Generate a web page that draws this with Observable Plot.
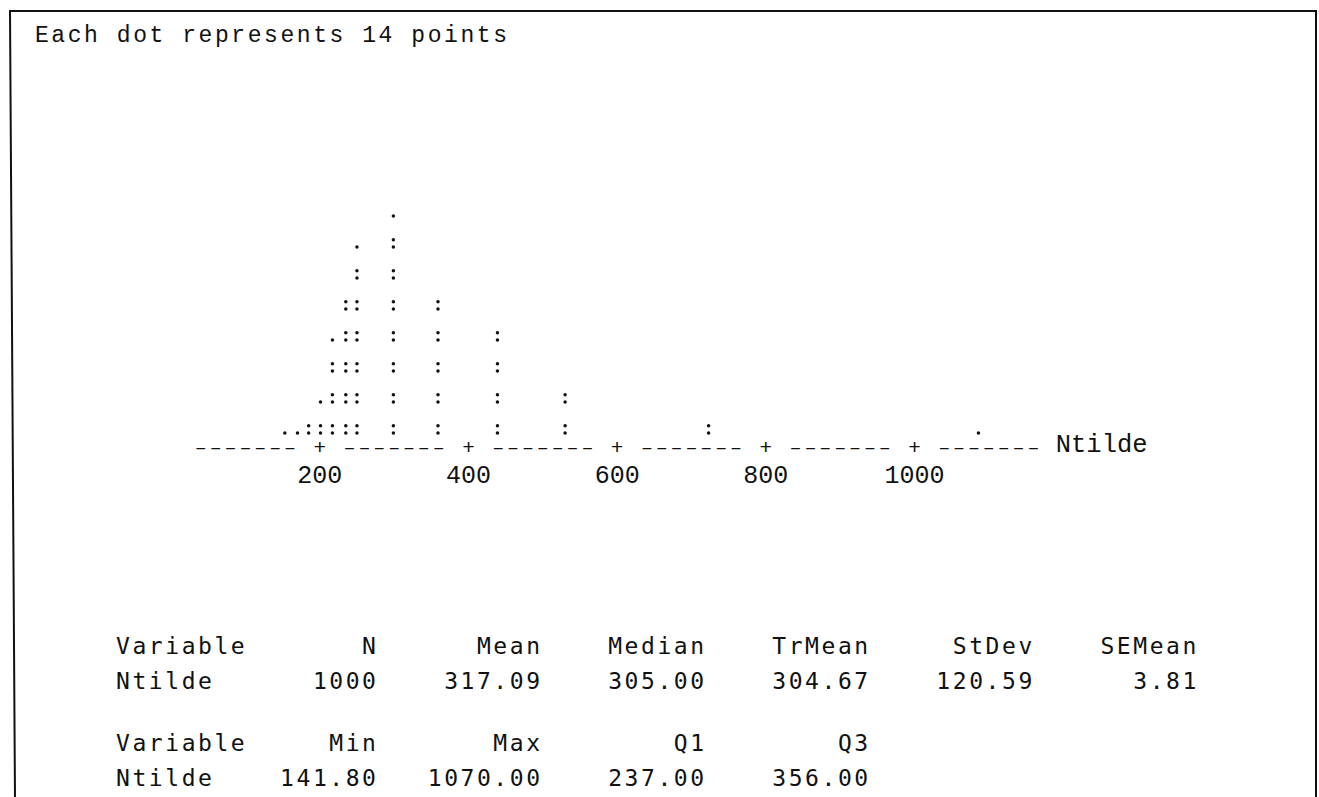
<!DOCTYPE html>
<html>
<head>
<meta charset="utf-8">
<script src="https://cdn.jsdelivr.net/npm/d3@7"></script>
<script src="https://cdn.jsdelivr.net/npm/@observablehq/plot@0.6"></script>
<style>
  html, body { margin: 0; padding: 0; background: #fff; }
  body { width: 1319px; height: 797px; overflow: hidden; position: relative;
         font-family: "Liberation Mono", "DejaVu Sans Mono", monospace; color: #111; }
  #frame { position: absolute; left: 0; top: 0; }
  .txt { position: absolute; white-space: pre; font-size: 23px; letter-spacing: 2.56px; line-height: 35px; margin: 0; }
  #title { left: 35px; top: 19.4px; }
  #statsA { left: 116px; top: 629.4px; }
  #statsB { left: 116px; top: 726.4px; }
  #chart { position: absolute; left: 0; top: 0; }
</style>
</head>
<body>
<svg id="frame" width="1319" height="797">
  <polyline points="15,800 10,11 1316,11 1316,800" fill="none" stroke="#111" stroke-width="2"/>
</svg>
<div id="title" class="txt"></div>
<div id="chart"></div>
<pre id="statsA" class="txt"></pre>
<pre id="statsB" class="txt"></pre>
<script>
// ---- data ----
const titleText = "Each dot represents 14 points";
const variableName = "Ntilde";
// dot columns (bin centre values) and number of dots in each column
const binCenters = [153, 170, 185, 201, 217, 235, 250, 299, 359, 439, 530, 723, 1086];
const dotCounts  = [1,   1,   2,   3,   7,   10,  13,  15,  10,  8,   4,   2,   1];
// axis tick labels
const tickValues = [200, 400, 600, 800, 1000];
// axis character cells (one character every 20 units)
const axisStart = 40, axisEnd = 1160, axisStep = 20;
// descriptive statistics
const stats1Names  = ["N", "Mean", "Median", "TrMean", "StDev", "SEMean"];
const stats1Values = ["1000", "317.09", "305.00", "304.67", "120.59", "3.81"];
const stats2Names  = ["Min", "Max", "Q1", "Q3"];
const stats2Values = ["141.80", "1070.00", "237.00", "356.00"];

// ---- build ----
const colonGap = 0.232; // vertical gap of the two dots of a ":" (in row units)
const dots = binCenters.flatMap((c, i) =>
  d3.range(dotCounts[i]).map(k => ({x: c, y: Math.floor(k / 2) + (k % 2) * colonGap})));

// axis cells: "+" at ticks, a blank cell on each side of a tick, dashes elsewhere
const cells = d3.range(axisStart, axisEnd + 1, axisStep);
const isTick = v => tickValues.includes(v);
const nearTick = v => isTick(v - axisStep) || isTick(v + axisStep);
const plusCells = cells.filter(isTick);
const dashCells = cells.filter(v => !isTick(v) && !nearTick(v));

const FONT = "Liberation Mono, DejaVu Sans Mono, monospace";
const chart = Plot.plot({
  width: 1319,
  height: 520,
  marginTop: 0, marginBottom: 68, marginLeft: 0, marginRight: 0,
  x: {domain: [0, 1200], range: [170.6, 1062.7], axis: null},
  y: {domain: [0, 8], range: [432.5, 184.5], axis: null},
  style: {fontFamily: FONT, fontSize: "24px", background: "transparent", color: "#111", overflow: "visible"},
  marks: [
    Plot.dot(dots, {x: "x", y: "y", r: 1.75, fill: "#111", stroke: "none"}),
    Plot.text(dashCells, {x: d => d, text: () => "\u2013", frameAnchor: "bottom", dy: 1, fill: "#111", fontSize: 20, fontFamily: FONT}),
    Plot.text(plusCells, {x: d => d, text: () => "+", frameAnchor: "bottom", dy: 1, fill: "#111", fontSize: 21, fontFamily: FONT}),
    Plot.text(tickValues, {x: d => d, text: d => String(d), frameAnchor: "bottom", dy: 30, fill: "#111", fontSize: 25, fontFamily: FONT}),
    Plot.text([variableName], {x: () => axisEnd + axisStep * 1.5, text: d => d, frameAnchor: "bottom", textAnchor: "start", dy: -1, fill: "#111", fontSize: 25.5, fontFamily: FONT})
  ]
});
document.getElementById("chart").appendChild(chart);

document.getElementById("title").textContent = titleText;

function statLine(label, vals) {
  return label.padEnd(8) + vals.map((v, i) => v.padStart(i === 0 ? 8 : 10)).join("");
}
document.getElementById("statsA").textContent =
  statLine("Variable", stats1Names) + "\n" + statLine(variableName, stats1Values);
document.getElementById("statsB").textContent =
  statLine("Variable", stats2Names) + "\n" + statLine(variableName, stats2Values);
</script>
</body>
</html>
